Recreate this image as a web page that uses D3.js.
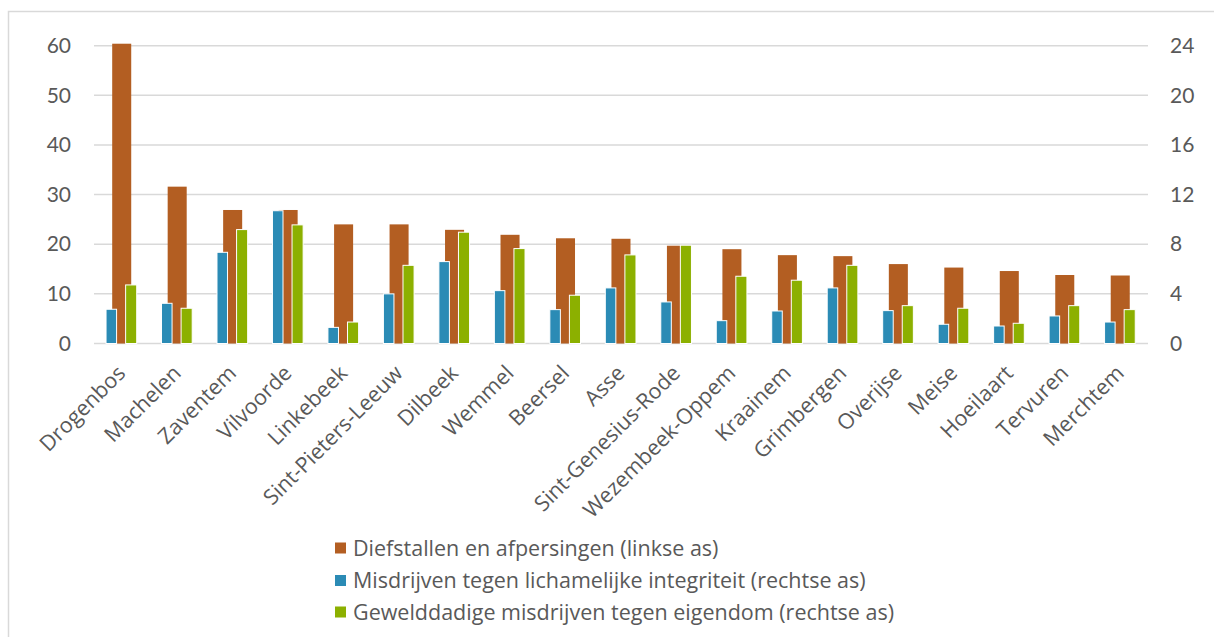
<!DOCTYPE html>
<html>
<head>
<meta charset="utf-8">
<script src="https://cdn.jsdelivr.net/npm/d3@7"></script>
<style>
  html, body { margin: 0; padding: 0; background: #fff; }
  svg { display: block; }
  text { fill: #595959; }
</style>
</head>
<body>
<svg id="chart" width="1214" height="637"></svg>
<script>
const categories = ["Drogenbos","Machelen","Zaventem","Vilvoorde","Linkebeek","Sint-Pieters-Leeuw","Dilbeek","Wemmel","Beersel","Asse","Sint-Genesius-Rode","Wezembeek-Oppem","Kraainem","Grimbergen","Overijse","Meise","Hoeilaart","Tervuren","Merchtem"];
const diefstallen = [60.4,31.6,26.9,26.9,24.0,24.0,22.9,21.9,21.2,21.1,19.7,19.0,17.8,17.6,16.0,15.3,14.6,13.8,13.7];
const lichamelijk = [2.76,3.24,7.35,10.7,1.3,4.0,6.6,4.26,2.73,4.48,3.35,1.84,2.62,4.48,2.65,1.55,1.41,2.22,1.73];
const geweld = [4.72,2.84,9.18,9.56,1.73,6.3,8.97,7.65,3.89,7.14,7.92,5.42,5.1,6.3,3.05,2.84,1.63,3.05,2.73];
const leftTicks = [0,10,20,30,40,50,60];
const rightTicks = [0,4,8,12,16,20,24];
const seriesNames = ["Diefstallen en afpersingen (linkse as)","Misdrijven tegen lichamelijke integriteit (rechtse as)","Gewelddadige misdrijven tegen eigendom (rechtse as)"];
const colors = ["#B35E22","#2B8BB5","#8CB000"];

const svg = d3.select("#chart");
const plot = {left: 94, right: 1148, top: 45.7, bottom: 343.5};

// outer border
svg.append("rect").attr("x", 8.5).attr("y", 11.5).attr("width", 1240).attr("height", 700)
  .attr("fill", "none").attr("stroke", "#d9d9d9").attr("stroke-width", 1.5);

const x = d3.scaleBand().domain(categories).range([plot.left, plot.right]).padding(0);
const yL = d3.scaleLinear().domain([0, 60]).range([plot.bottom, plot.top]);
const yR = d3.scaleLinear().domain([0, 24]).range([plot.bottom, plot.top]);

// gridlines
svg.append("g").selectAll("line").data(leftTicks).join("line")
  .attr("x1", plot.left).attr("x2", plot.right)
  .attr("y1", d => yL(d)).attr("y2", d => yL(d))
  .attr("stroke", "#d9d9d9").attr("stroke-width", 1.5);

// left axis
const gL = svg.append("g").attr("transform", `translate(${plot.left},0)`)
  .call(d3.axisLeft(yL).tickValues(leftTicks).tickSize(0).tickPadding(23));
gL.select(".domain").remove();
gL.selectAll("text").style("font-family", "Lato, 'Open Sans', sans-serif").style("font-size", "21px").attr("fill", "#595959");

// right axis
const gR = svg.append("g").attr("transform", `translate(${plot.right},0)`)
  .call(d3.axisRight(yR).tickValues(rightTicks).tickSize(0).tickPadding(22));
gR.select(".domain").remove();
gR.selectAll("text").style("font-family", "Lato, 'Open Sans', sans-serif").style("font-size", "21px").attr("fill", "#595959");

const bw = x.bandwidth();
const cx = d => x(d) + bw / 2;

// orange (primary) bars
svg.append("g").selectAll("rect").data(categories).join("rect")
  .attr("x", d => cx(d) - bw * 0.172)
  .attr("width", bw * 0.343)
  .attr("y", (d, i) => yL(diefstallen[i]))
  .attr("height", (d, i) => yL(0) - yL(diefstallen[i]))
  .attr("fill", colors[0]);

// blue (secondary)
svg.append("g").selectAll("rect").data(categories).join("rect")
  .attr("x", d => cx(d) - bw * 0.283)
  .attr("width", bw * 0.19)
  .attr("y", (d, i) => yR(lichamelijk[i]))
  .attr("height", (d, i) => yR(0) - yR(lichamelijk[i]))
  .attr("fill", colors[1]).attr("stroke", "#fff").attr("stroke-width", 1);

// green (secondary)
svg.append("g").selectAll("rect").data(categories).join("rect")
  .attr("x", d => cx(d) + bw * 0.07)
  .attr("width", bw * 0.2)
  .attr("y", (d, i) => yR(geweld[i]))
  .attr("height", (d, i) => yR(0) - yR(geweld[i]))
  .attr("fill", colors[2]).attr("stroke", "#fff").attr("stroke-width", 1);

// x labels
svg.append("g").selectAll("text").data(categories).join("text")
  .attr("transform", d => `translate(${cx(d) + 5},${plot.bottom + 31}) rotate(-45)`)
  .attr("text-anchor", "end")
  .style("font-family", "'Open Sans', sans-serif").style("font-size", "21.5px")
  .text(d => d);

// legend
const legend = svg.append("g").attr("transform", "translate(335,0)");
const legendY = [548, 580.5, 612];
seriesNames.forEach((n, i) => {
  legend.append("rect").attr("x", 0).attr("y", legendY[i] - 5.5).attr("width", 11).attr("height", 11).attr("fill", colors[i]);
  legend.append("text").attr("x", 18).attr("y", legendY[i]).attr("dy", "0.35em")
    .style("font-family", "'Open Sans', sans-serif").style("font-size", "21.5px").text(n);
});
</script>
</body>
</html>
